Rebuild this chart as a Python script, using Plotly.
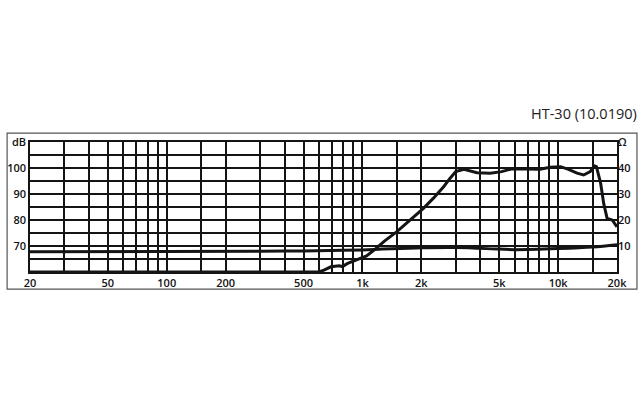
import plotly.graph_objects as go

# SPL response (dB)
spl_freq = [20, 100, 300, 600, 640, 690, 760, 790, 840, 940, 1050, 1150, 1300,
            1500, 1750, 2050, 2300, 2600, 2800, 3000, 3300, 3850, 4500, 5150,
            5800, 7000, 8100, 9100, 10300, 11300, 12500, 13500, 14600, 15300,
            15700, 16500, 17100, 17800, 18900, 20000]
spl_db = [60, 60, 60, 60, 60.8, 62.0, 62.4, 62.1, 63.3, 64.8, 66.2, 68.5, 72.0,
          75.5, 80.0, 84.5, 88.3, 92.8, 96.0, 98.6, 99.5, 98.2, 98.0, 98.6,
          99.7, 99.7, 99.5, 100.3, 100.5, 99.5, 98.0, 97.3, 98.6, 100.8,
          100.5, 94.1, 86.4, 80.6, 80.0, 77.4]

# impedance (ohm)
imp_freq = [20, 100, 300, 500, 1000, 2000, 3000, 5000, 6000, 10000, 15000, 20000]
imp_ohm = [7.8, 7.9, 8.0, 8.1, 8.5, 9.3, 9.4, 8.8, 8.6, 9.0, 9.6, 10.5]

# grid / tick labels
x_grid = [20, 30, 40, 50, 60, 70, 80, 90, 100, 150, 200, 300, 400, 500, 600,
          700, 800, 900, 1000, 1500, 2000, 3000, 4000, 5000, 6000, 7000, 8000,
          9000, 10000, 15000, 20000]
x_labels = {20: "20", 50: "50", 100: "100", 200: "200", 500: "500", 1000: "1k",
            2000: "2k", 5000: "5k", 10000: "10k", 20000: "20k"}
db_grid = [60, 65, 70, 75, 80, 85, 90, 95, 100, 105, 110]
db_labels = {70: "70", 80: "80", 90: "90", 100: "100", 110: "dB"}
ohm_ticks = [10, 20, 30, 40, 50]
ohm_labels = ["10", "20", "30", "40", "Ω"]

ink = "#141414"
font = dict(family="Open Sans", size=11, color="#111111", weight=600)

fig = go.Figure()
fig.add_trace(go.Scatter(x=imp_freq, y=imp_ohm, yaxis="y2", mode="lines",
                         line=dict(color=ink, width=3, shape="spline"),
                         hoverinfo="skip"))
fig.add_trace(go.Scatter(x=spl_freq, y=spl_db, mode="lines",
                         line=dict(color=ink, width=3),
                         hoverinfo="skip"))

fig.update_layout(
    width=640, height=400,
    margin=dict(l=30, r=23, t=142, b=128),
    paper_bgcolor="white", plot_bgcolor="white",
    showlegend=False,
    font=font,
    xaxis=dict(type="log", range=[1.30103, 4.30103],
               tickmode="array", tickvals=x_grid,
               ticktext=[x_labels.get(v, "") for v in x_grid],
               showgrid=True, gridcolor=ink, gridwidth=1.5,
               showline=True, linecolor=ink, linewidth=2, mirror=True,
               ticks="", zeroline=False, tickfont=font, automargin=False),
    yaxis=dict(range=[60, 110], tickmode="array", tickvals=db_grid,
               ticktext=[db_labels.get(v, "") for v in db_grid],
               showgrid=True, gridcolor=ink, gridwidth=1.5,
               showline=True, linecolor=ink, linewidth=1.5, mirror=True,
               ticks="", zeroline=False, tickfont=font, automargin=False),
    yaxis2=dict(range=[0, 50], overlaying="y", side="right",
                tickmode="array", tickvals=ohm_ticks, ticktext=ohm_labels,
                showgrid=False, zeroline=False, showline=False, ticks="",
                tickfont=font, automargin=False),
)

# outer frame
fig.add_shape(type="rect", xref="paper", yref="paper",
              x0=-0.039, x1=1.034, y0=-0.131, y1=1.069,
              line=dict(color="#555555", width=1.2), layer="below")

fig.add_annotation(text="HT-30 (10.0190)", xref="paper", yref="paper",
                   x=1.037, y=1.223, xanchor="right", yanchor="middle",
                   showarrow=False,
                   font=dict(family="Open Sans", size=14.5, color="#222222",
                             weight=400))

# page has a default 8px body margin; drop it so the figure sits at 0,0
fig.write_html("out.html", config={"displayModeBar": False},
               post_script="document.body.style.margin='0';")
